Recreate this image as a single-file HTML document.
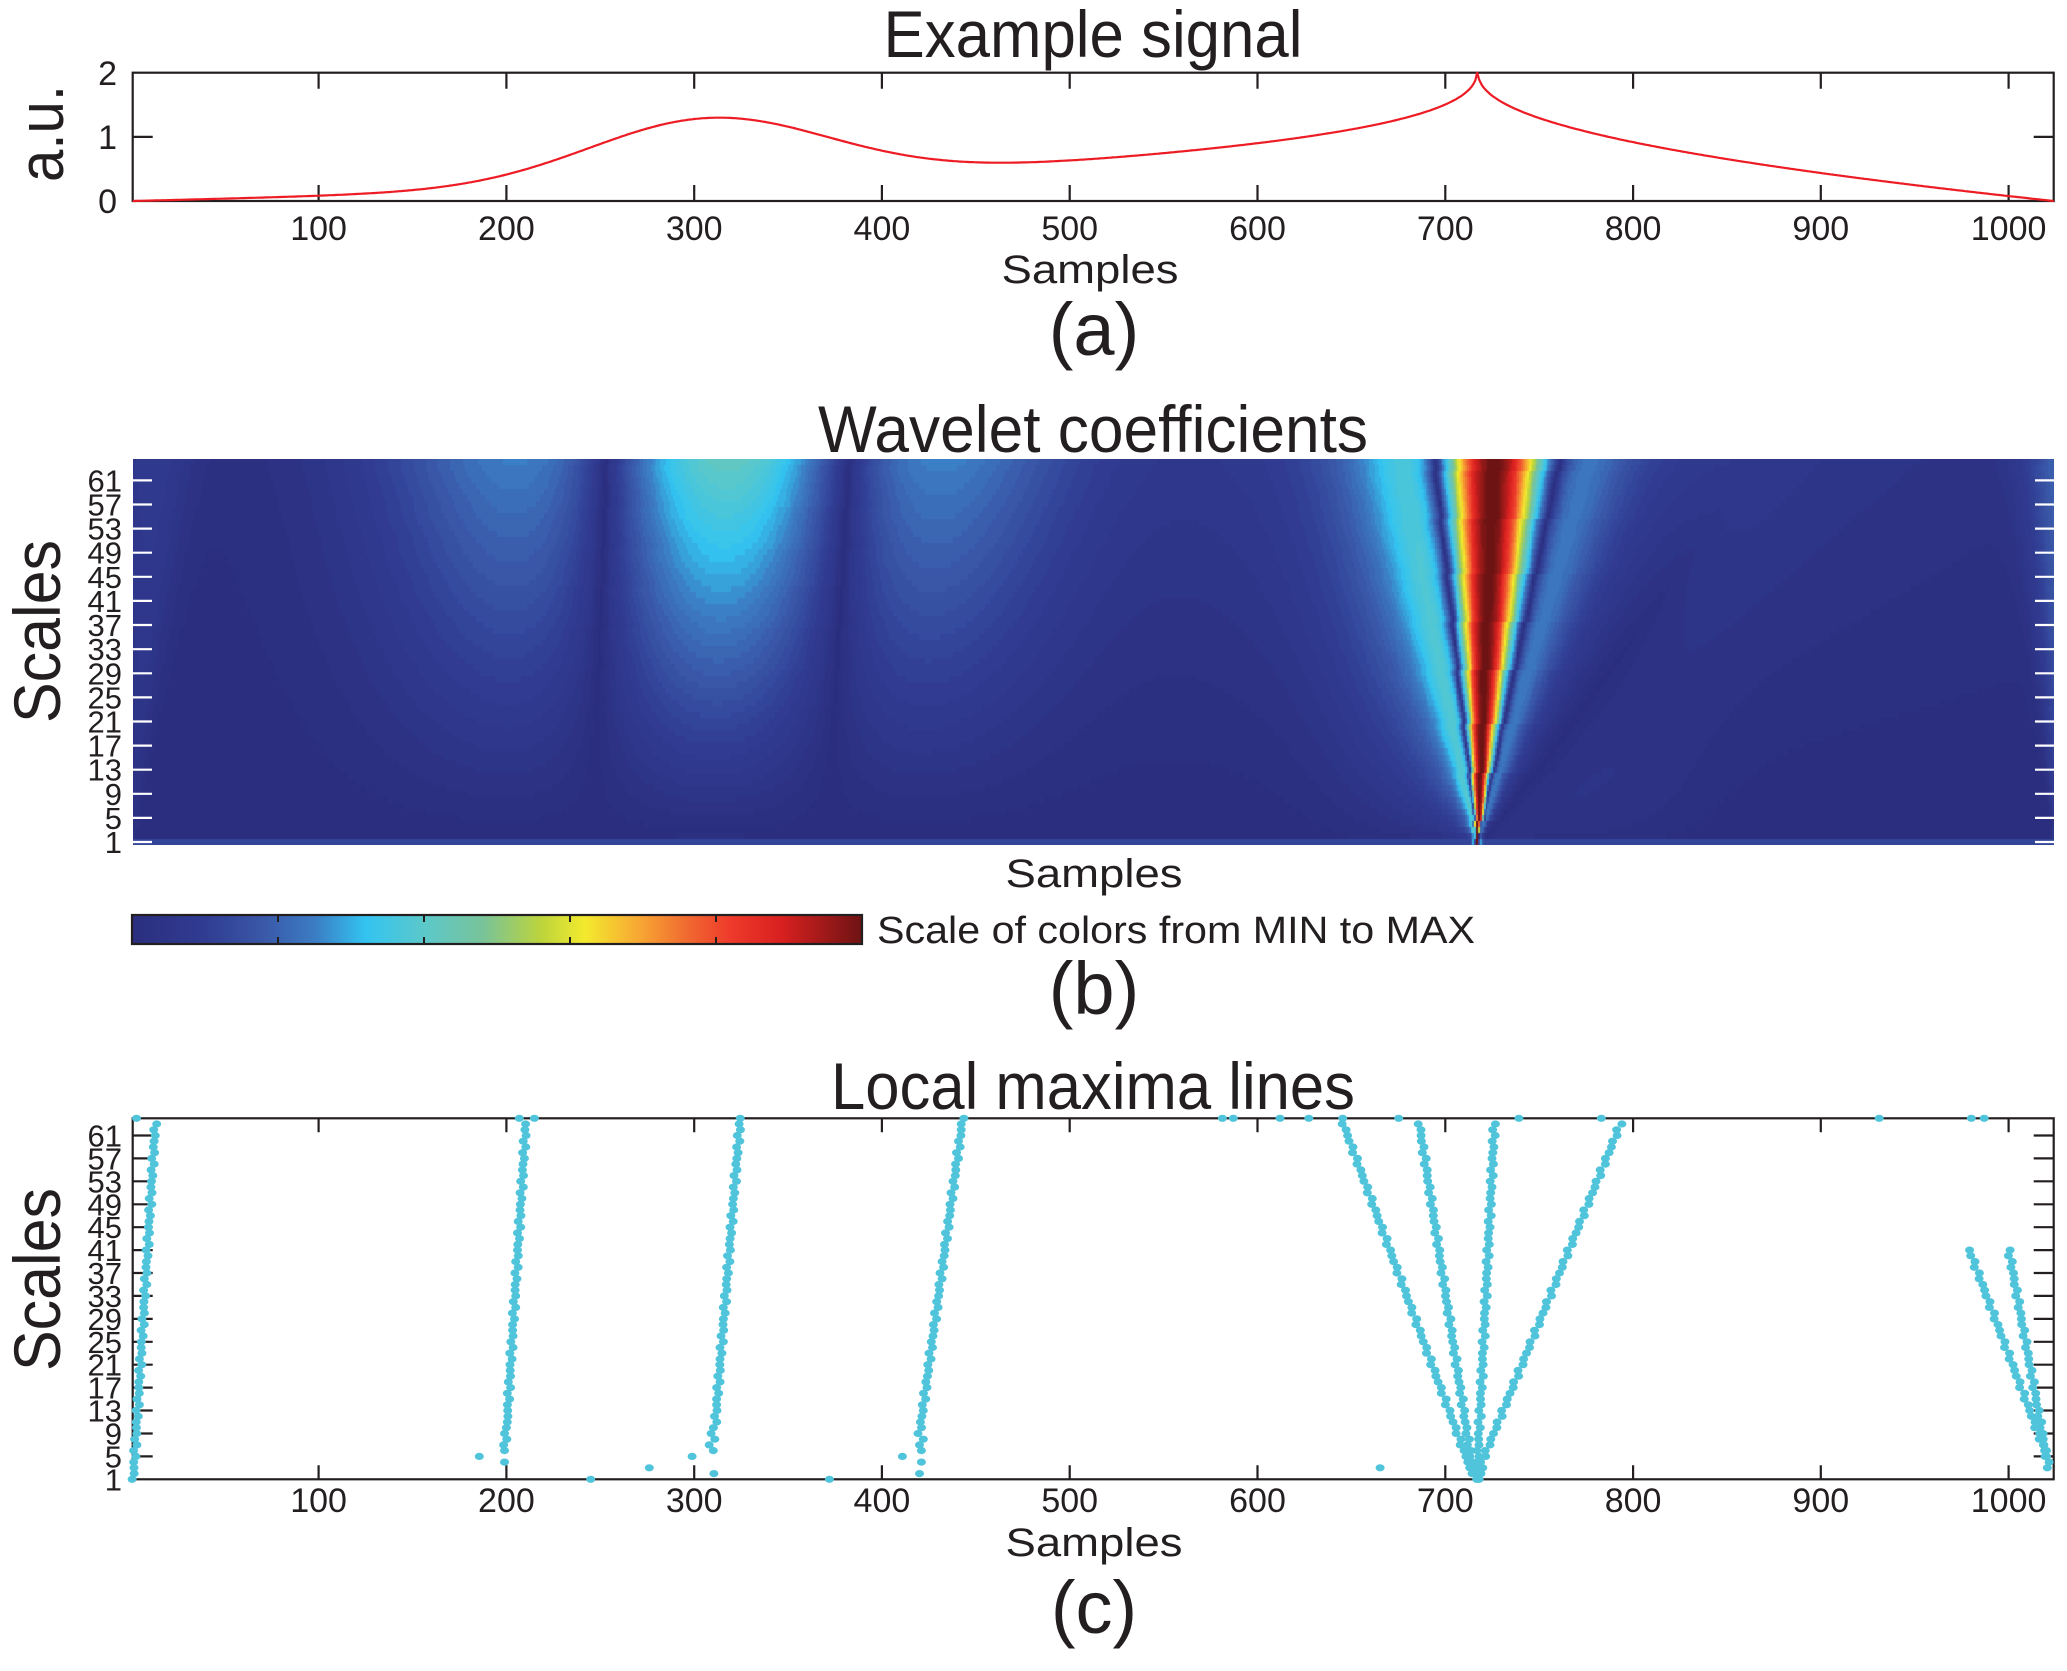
<!DOCTYPE html>
<html><head><meta charset="utf-8"><style>
html,body{margin:0;padding:0;background:#fff;}
#wrap{position:relative;width:2067px;height:1671px;overflow:hidden;background:#fff;}
#hm{position:absolute;left:133px;top:459px;width:1921px;height:386px;background:#2e2f7c;}
svg{position:absolute;left:0;top:0;}
text{font-family:"Liberation Sans",Arial,sans-serif;fill:#231f20;}
</style></head><body><div id="wrap">
<canvas id="hm" width="1921" height="386"></canvas>
<svg width="2067" height="1671" viewBox="0 0 2067 1671">
<defs>
<linearGradient id="cb" x1="0" x2="1" y1="0" y2="0">
<stop offset="0" stop-color="#2b2e7e"/><stop offset="0.10" stop-color="#303c92"/><stop offset="0.18" stop-color="#3a58a8"/><stop offset="0.25" stop-color="#3b7cc3"/><stop offset="0.32" stop-color="#33c4f1"/><stop offset="0.40" stop-color="#5bc8ca"/><stop offset="0.48" stop-color="#78c39a"/><stop offset="0.56" stop-color="#bcd43c"/><stop offset="0.62" stop-color="#f3ea2e"/><stop offset="0.70" stop-color="#f7a233"/><stop offset="0.76" stop-color="#f06a30"/><stop offset="0.82" stop-color="#ee3a2b"/><stop offset="0.89" stop-color="#d8201f"/><stop offset="1" stop-color="#6e1314"/>
</linearGradient>
</defs>

<!-- ===== Panel A ===== -->
<text x="1093" y="57" font-size="66" text-anchor="middle" textLength="419" lengthAdjust="spacingAndGlyphs">Example signal</text>
<text transform="translate(63,133.5) rotate(-90)" font-size="64" text-anchor="middle" textLength="97" lengthAdjust="spacingAndGlyphs">a.u.</text>
<g font-size="34" text-anchor="end">
<text x="117" y="213.2">0</text><text x="117" y="149">1</text><text x="117" y="84.9">2</text>
</g>
<g font-size="34" text-anchor="middle">
<text x="318.6" y="240">100</text><text x="506.4" y="240">200</text><text x="694.2" y="240">300</text><text x="881.9" y="240">400</text><text x="1069.7" y="240">500</text><text x="1257.5" y="240">600</text><text x="1445.3" y="240">700</text><text x="1633.1" y="240">800</text><text x="1820.8" y="240">900</text><text x="2008.6" y="240">1000</text>
</g>
<text x="1090" y="283" font-size="40" text-anchor="middle" textLength="177" lengthAdjust="spacingAndGlyphs">Samples</text>
<text x="1094" y="355" font-size="74" text-anchor="middle">(a)</text>
<rect x="132.7" y="72.7" width="1921" height="128.3" fill="none" stroke="#231f20" stroke-width="2.2"/>
<g stroke="#231f20" stroke-width="2.2">
<path d="M318.6 201V185M506.4 201V185M694.2 201V185M881.9 201V185M1069.7 201V185M1257.5 201V185M1445.3 201V185M1633.1 201V185M1820.8 201V185M2008.6 201V185"/>
<path d="M318.6 72.7V88.7M506.4 72.7V88.7M694.2 72.7V88.7M881.9 72.7V88.7M1069.7 72.7V88.7M1257.5 72.7V88.7M1445.3 72.7V88.7M1633.1 72.7V88.7M1820.8 72.7V88.7M2008.6 72.7V88.7"/>
<path d="M132.7 136.85H152.7M2053.7 136.85H2033.7"/>
</g>
<path id="sig" d="" fill="none" stroke="#ed1c24" stroke-width="2.2" stroke-linejoin="round"/>

<!-- ===== Panel B ===== -->
<text x="1093" y="452" font-size="66" text-anchor="middle" textLength="550" lengthAdjust="spacingAndGlyphs">Wavelet coefficients</text>
<text transform="translate(60,631.5) rotate(-90)" font-size="66" text-anchor="middle" textLength="183" lengthAdjust="spacingAndGlyphs">Scales</text>
<g font-size="31" text-anchor="end">
<text x="122" y="853">1</text><text x="122" y="828.9">5</text><text x="122" y="804.8">9</text><text x="122" y="780.7">13</text><text x="122" y="756.6">17</text><text x="122" y="732.5">21</text><text x="122" y="708.4">25</text><text x="122" y="684.3">29</text><text x="122" y="660.2">33</text><text x="122" y="636">37</text><text x="122" y="611.9">41</text><text x="122" y="587.8">45</text><text x="122" y="563.7">49</text><text x="122" y="539.6">53</text><text x="122" y="515.5">57</text><text x="122" y="491.4">61</text>
</g>
<g stroke="#ffffff" stroke-width="2.2">
<path d="M133 842H152M133 817.9H152M133 793.8H152M133 769.7H152M133 745.6H152M133 721.5H152M133 697.4H152M133 673.3H152M133 649.2H152M133 625H152M133 600.9H152M133 576.8H152M133 552.7H152M133 528.6H152M133 504.5H152M133 480.4H152"/>
<path d="M2054 842H2035M2054 817.9H2035M2054 793.8H2035M2054 769.7H2035M2054 745.6H2035M2054 721.5H2035M2054 697.4H2035M2054 673.3H2035M2054 649.2H2035M2054 625H2035M2054 600.9H2035M2054 576.8H2035M2054 552.7H2035M2054 528.6H2035M2054 504.5H2035M2054 480.4H2035"/>
</g>
<text x="1094" y="887" font-size="40" text-anchor="middle" textLength="177" lengthAdjust="spacingAndGlyphs">Samples</text>
<rect x="132" y="915" width="730" height="29" fill="url(#cb)" stroke="#231f20" stroke-width="2.2"/>
<g stroke="#231f20" stroke-width="2">
<path d="M278 915V922M424 915V922M570 915V922M716 915V922M278 944V937M424 944V937M570 944V937M716 944V937"/>
</g>
<text x="877" y="943" font-size="38" textLength="598" lengthAdjust="spacingAndGlyphs">Scale of colors from MIN to MAX</text>
<text x="1094" y="1014" font-size="74" text-anchor="middle">(b)</text>

<!-- ===== Panel C ===== -->
<text x="1093" y="1109" font-size="66" text-anchor="middle" textLength="524" lengthAdjust="spacingAndGlyphs">Local maxima lines</text>
<text transform="translate(60,1279.5) rotate(-90)" font-size="66" text-anchor="middle" textLength="183" lengthAdjust="spacingAndGlyphs">Scales</text>
<g font-size="31" text-anchor="end">
<text x="122" y="1490.3">1</text><text x="122" y="1467.4">5</text><text x="122" y="1444.5">9</text><text x="122" y="1421.5">13</text><text x="122" y="1398.6">17</text><text x="122" y="1375.7">21</text><text x="122" y="1352.8">25</text><text x="122" y="1329.9">29</text><text x="122" y="1306.9">33</text><text x="122" y="1284">37</text><text x="122" y="1261.1">41</text><text x="122" y="1238.2">45</text><text x="122" y="1215.3">49</text><text x="122" y="1192.3">53</text><text x="122" y="1169.4">57</text><text x="122" y="1146.5">61</text>
</g>
<g font-size="34" text-anchor="middle">
<text x="318.6" y="1512">100</text><text x="506.4" y="1512">200</text><text x="694.2" y="1512">300</text><text x="881.9" y="1512">400</text><text x="1069.7" y="1512">500</text><text x="1257.5" y="1512">600</text><text x="1445.3" y="1512">700</text><text x="1633.1" y="1512">800</text><text x="1820.8" y="1512">900</text><text x="2008.6" y="1512">1000</text>
</g>
<text x="1094" y="1556" font-size="40" text-anchor="middle" textLength="177" lengthAdjust="spacingAndGlyphs">Samples</text>
<text x="1094" y="1633" font-size="74" text-anchor="middle">(c)</text>
<rect x="132.7" y="1118.3" width="1921" height="361" fill="none" stroke="#231f20" stroke-width="2.2"/>
<g stroke="#231f20" stroke-width="2.2">
<path d="M318.6 1479.3V1465.3M506.4 1479.3V1465.3M694.2 1479.3V1465.3M881.9 1479.3V1465.3M1069.7 1479.3V1465.3M1257.5 1479.3V1465.3M1445.3 1479.3V1465.3M1633.1 1479.3V1465.3M1820.8 1479.3V1465.3M2008.6 1479.3V1465.3"/>
<path d="M318.6 1118.3V1132.3M506.4 1118.3V1132.3M694.2 1118.3V1132.3M881.9 1118.3V1132.3M1069.7 1118.3V1132.3M1257.5 1118.3V1132.3M1445.3 1118.3V1132.3M1633.1 1118.3V1132.3M1820.8 1118.3V1132.3M2008.6 1118.3V1132.3"/>
<path d="M132.7 1456.4H152.7M132.7 1433.5H152.7M132.7 1410.5H152.7M132.7 1387.6H152.7M132.7 1364.7H152.7M132.7 1341.8H152.7M132.7 1318.9H152.7M132.7 1295.9H152.7M132.7 1273H152.7M132.7 1250.1H152.7M132.7 1227.2H152.7M132.7 1204.3H152.7M132.7 1181.3H152.7M132.7 1158.4H152.7M132.7 1135.5H152.7"/>
<path d="M2053.7 1456.4H2033.7M2053.7 1433.5H2033.7M2053.7 1410.5H2033.7M2053.7 1387.6H2033.7M2053.7 1364.7H2033.7M2053.7 1341.8H2033.7M2053.7 1318.9H2033.7M2053.7 1295.9H2033.7M2053.7 1273H2033.7M2053.7 1250.1H2033.7M2053.7 1227.2H2033.7M2053.7 1204.3H2033.7M2053.7 1181.3H2033.7M2053.7 1158.4H2033.7M2053.7 1135.5H2033.7"/>
</g>
<g id="dots" fill="#50c4da"></g>
</svg>
</div>
<script>
(function(){
var N=1024,i,j;
var sig=new Float64Array(N);
for(i=0;i<N;i++){var x=i/1023;sig[i]=Math.exp(-128*(x-0.3)*(x-0.3))-3*Math.pow(Math.abs(x-0.7),0.4);}
var f0=sig[0],f1=sig[N-1],mx=0;
for(i=0;i<N;i++){sig[i]-=f0+(f1-f0)*i/1023;if(sig[i]>mx)mx=sig[i];}
var d='';
for(i=0;i<N;i++){var px=132.7+i*1.8778;var py=201-sig[i]/mx*2*64.15;d+=(i?'L':'M')+px.toFixed(1)+' '+py.toFixed(1);}
document.getElementById('sig').setAttribute('d',d);

/* wavelet coefficients */
function cwt(kw,ks,beta,gam){
  var rows=[];
  for(var a=1;a<=64;a++){
    var w=Math.max(kw*a,0.35),R=Math.max(1,Math.ceil(5*w)),k=new Float64Array(2*R+1),m=0;
    for(j=-R;j<=R;j++){var u=j/w;var e=Math.exp(-u*u/2);var v=(1-u*u)*e-beta*u*e;k[j+R]=v;m+=v;}
    m/=(2*R+1);for(j=0;j<2*R+1;j++)k[j]-=m;
    var sh=Math.round(ks*a),row=new Float64Array(N),rm=0;
    for(var b=0;b<N;b++){var acc=0,c=b-sh,lo=Math.max(-R,-c),hi=Math.min(R,N-1-c);
      for(j=lo;j<=hi;j++)acc+=sig[c+j]*k[j+R];acc=Math.abs(acc);row[b]=acc;if(acc>rm)rm=acc;}
    for(b=0;b<N;b++)row[b]=Math.pow(row[b]/rm,gam);
    rows.push(row);
  }
  return rows;
}
var A=cwt(0.23,0.15,0,0.65);
var B=cwt(0.33,0.12,0.08,0.68);
var rows=[];
for(var r0=0;r0<64;r0++){var ra=A[r0],rb=B[r0],rr=new Float64Array(N);
  for(i=0;i<N;i++){var wg=Math.exp(-Math.pow((i-735)/100,4));rr[i]=wg*rb[i]+(1-wg)*ra[i];}
  rows.push(rr);}
for(i=0;i<N;i++){if(rows[0][i]<0.14)rows[0][i]=0.14;}
var CM=[[0,43,46,126],[0.10,48,60,146],[0.18,58,88,168],[0.25,59,124,195],[0.32,51,196,241],[0.40,91,200,202],[0.48,120,195,154],[0.56,188,212,60],[0.62,243,234,46],[0.70,247,162,51],[0.76,240,106,48],[0.82,238,58,43],[0.89,216,32,31],[1,110,19,20]];
function cmap(t){for(var q=1;q<CM.length;q++){if(t<=CM[q][0]){var P=CM[q-1],Q=CM[q],f=(t-P[0])/(Q[0]-P[0]);return [P[1]+(Q[1]-P[1])*f,P[2]+(Q[2]-P[2])*f,P[3]+(Q[3]-P[3])*f];}}return [110,19,20];}
var lut=[];for(i=0;i<64;i++)lut.push(cmap(i/63));
var cv=document.getElementById('hm'),ctx=cv.getContext('2d'),W=cv.width,H=cv.height,img=ctx.createImageData(W,H);
var colB=new Int32Array(W);for(var p=0;p<W;p++)colB[p]=Math.min(N-1,Math.floor((p+0.5)*N/W));
for(var yy=0;yy<H;yy++){var r=63-Math.min(63,Math.floor((yy+0.5)*64/H)),rw=rows[r];
  for(var xx=0;xx<W;xx++){var val=rw[colB[xx]],qq=Math.min(63,Math.floor(val*64)),cc=lut[qq],o=(yy*W+xx)*4;
    img.data[o]=cc[0];img.data[o+1]=cc[1];img.data[o+2]=cc[2];img.data[o+3]=255;}}
ctx.putImageData(img,0,0);

/* local maxima dots */
var s='';
function dot(v,sc){var X=132.7+(v-1)*1.8778,Y=1479.3-(sc-1)*5.73;s+='<ellipse cx="'+X.toFixed(1)+'" cy="'+Y.toFixed(1)+'" rx="4.5" ry="3.6"/>';}
function ln(v0,s0,v1,s1){for(var sc=s0;sc<=s1;sc++){var v=v0+(v1-v0)*(sc-s0)/(s1-s0);dot(v+0.8*Math.sin(sc*2.7+v0),sc);}}
function pts(L){for(var q=0;q<L.length;q++)dot(L[q][0],L[q][1]);}
ln(1.3,1,13,63);dot(3,64);
ln(200.5,12,210.3,63);pts([[199,4],[199,6],[198.5,7],[200.2,8],[199,9],[200,10],[200.5,11],[185.6,5],[244.9,1],[206.9,64],[214.9,64]]);
ln(311,10,324.5,64);pts([[309,9],[311,8],[308,7],[310.2,6],[310.5,2],[276.1,3],[298.9,5],[372,1]]);
ln(420,9,443,64);pts([[422,8],[420,7],[421,6],[421,4],[420,2],[410.9,5]]);
ln(708.7,7,644.6,64);pts([[711,5],[713,3],[712,4],[710,6]]);
ln(714.9,2,686.2,63);
ln(716.7,1,726.1,63);
ln(717,2,793.3,63);
pts([[717,1],[718,1],[716,2],[719,2],[715,3],[720,3],[665.3,3]]);
var top=[581.3,587.1,612,627.3,675.2,739.2,783.1,931.1,980.1,987];for(i=0;i<top.length;i++)dot(top[i],64);
ln(1020.4,5,979.1,41);
ln(1021.3,3,1000.1,41);
document.getElementById('dots').innerHTML=s;
})();
</script>
</body></html>
